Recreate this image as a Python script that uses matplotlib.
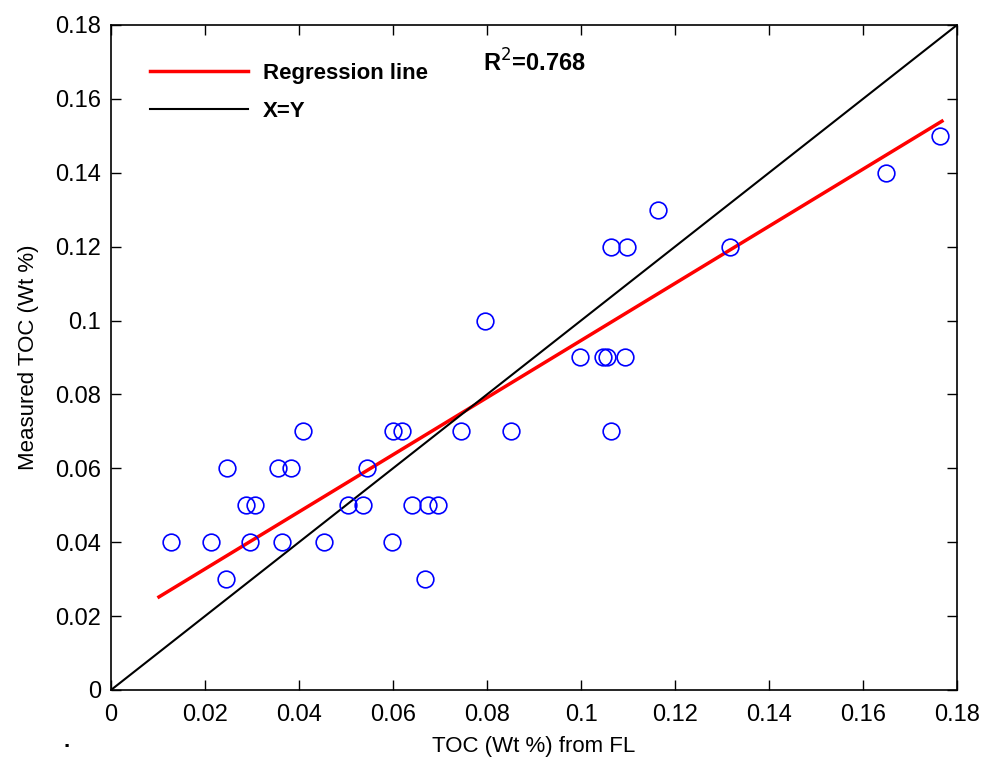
import numpy as np
import matplotlib.pyplot as plt

plt.rcParams['font.family'] = ['Liberation Sans', 'DejaVu Sans']

# TOC from FL (x) vs measured TOC (y), Wt %
toc_fl = [0.0128, 0.0213, 0.0245, 0.0247, 0.0288, 0.0307, 0.0296, 0.0356, 0.0383,
          0.0364, 0.0409, 0.0454, 0.0505, 0.0537, 0.0545, 0.0597, 0.0599, 0.0620,
          0.0641, 0.0669, 0.0675, 0.0695, 0.0744, 0.0795, 0.0852, 0.0997, 0.1046,
          0.1055, 0.1063, 0.1063, 0.1093, 0.1097, 0.1163, 0.1317, 0.1649, 0.1764]
toc_meas = [0.04, 0.04, 0.03, 0.06, 0.05, 0.05, 0.04, 0.06, 0.06,
            0.04, 0.07, 0.04, 0.05, 0.05, 0.06, 0.04, 0.07, 0.07,
            0.05, 0.03, 0.05, 0.05, 0.07, 0.10, 0.07, 0.09, 0.09,
            0.09, 0.12, 0.07, 0.09, 0.12, 0.13, 0.12, 0.14, 0.15]

# regression line as drawn in the figure
reg_slope = 0.773
reg_intercept = 0.0173
reg_x = [0.0102, 0.1768]
r2_text = '0.768'

fig = plt.figure(figsize=(9.86, 7.64), dpi=100)
ax = fig.add_axes([0.1126, 0.0969, 0.858, 0.8704])

ax.plot(toc_fl, toc_meas, 'o', mfc='none', mec='#0000ff', ms=12, mew=1.2, zorder=3)
rx = np.array(reg_x)
ax.plot(rx, reg_slope * rx + reg_intercept, color='#ff0000', lw=2.5, label='Regression line')
ax.plot([0, 0.18], [0, 0.18], color='black', lw=1.5, label='X=Y')

ax.set_xlim(0, 0.18)
ax.set_ylim(0, 0.18)
ticks = np.arange(0, 0.181, 0.02)
ax.set_xticks(ticks)
ax.set_yticks(ticks)
labels = ['0', '0.02', '0.04', '0.06', '0.08', '0.1', '0.12', '0.14', '0.16', '0.18']
ax.set_xticklabels(labels)
ax.set_yticklabels(labels)
ax.tick_params(direction='in', top=True, right=True, length=7, width=1,
               labelsize=17)
ax.tick_params(axis='x', pad=10)
ax.tick_params(axis='y', pad=7)
for s in ax.spines.values():
    s.set_linewidth(1.2)

ax.set_xlabel('TOC (Wt %) from FL', fontsize=16, labelpad=7)
ax.set_ylabel('Measured TOC (Wt %)', fontsize=16, labelpad=12)

leg = ax.legend(loc='upper left', bbox_to_anchor=(0.046, 0.9425), frameon=False,
                borderaxespad=0, borderpad=0,
                handlelength=4.4, handletextpad=0.7, labelspacing=0.75,
                prop={'size': 16, 'weight': 'bold'})

ax.text(0.44, 0.943, r'R$^2$=' + r2_text, transform=ax.transAxes, fontsize=17,
        fontweight='bold', ha='left', va='center')

fig.text(0.068, 0.03, '.', fontsize=16, ha='center', va='center', fontweight='bold')

fig.savefig('out.png', dpi=100)
